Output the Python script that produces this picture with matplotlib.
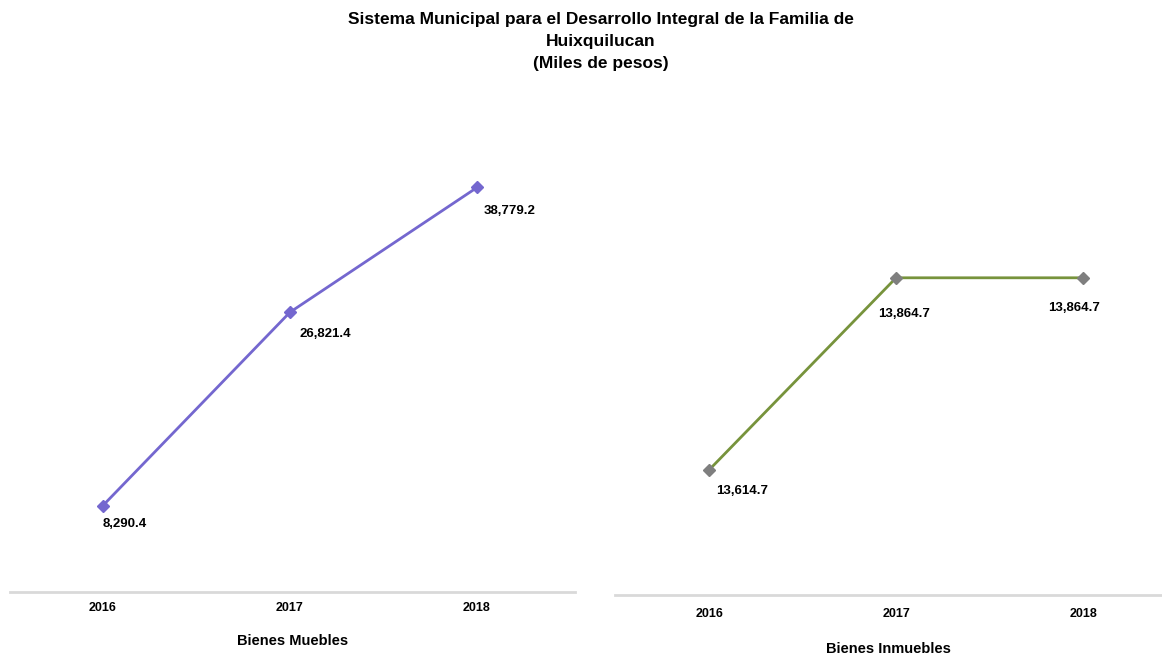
import matplotlib
matplotlib.use("Agg")
import matplotlib.pyplot as plt

plt.rcParams["font.family"] = ["Liberation Sans", "DejaVu Sans"]

years = ["2016", "2017", "2018"]
muebles = [8290.4, 26821.4, 38779.2]
inmuebles = [13614.7, 13864.7, 13864.7]
muebles_labels = ["8,290.4", "26,821.4", "38,779.2"]
inmuebles_labels = ["13,614.7", "13,864.7", "13,864.7"]

title = ("Sistema Municipal para el Desarrollo Integral de la Familia de\n"
         "Huixquilucan\n(Miles de pesos)")

fig = plt.figure(figsize=(11.62, 6.57), dpi=100)
fig.text(0.517, 0.981, title, ha="center", va="top", fontsize=12.5,
         fontweight="bold", linespacing=1.58)

ax1 = fig.add_axes([10 / 1162, 1 - 592 / 657, 565 / 1162, 472 / 657])
ax2 = fig.add_axes([615 / 1162, 1 - 595 / 657, 547 / 1162, 475 / 657])


def style(ax, xlim, ylim, pad):
    ax.set_xlim(*xlim)
    ax.set_ylim(*ylim)
    for s in ("top", "right", "left"):
        ax.spines[s].set_visible(False)
    ax.spines["bottom"].set_color("#d9d9d9")
    ax.spines["bottom"].set_linewidth(2)
    ax.set_yticks([])
    ax.set_xticks(range(len(years)))
    ax.set_xticklabels(years, fontsize=9, fontweight="bold")
    ax.tick_params(axis="x", length=0, pad=pad)


x = range(len(years))
ax1.plot(x, muebles, color="#7467cf", lw=2.0, marker="D", ms=6,
         mfc="#7467cf", mec="#7467cf")
style(ax1, (-0.497, 2.524), (0, 45250), 7.5)
ax1.set_xlabel("Bienes Muebles", fontsize=10.5, fontweight="bold", labelpad=14)
offs1 = [(0, -13), (7, -16), (5, -17)]
for xi, v, lab, off in zip(x, muebles, muebles_labels, offs1):
    ax1.annotate(lab, (xi, v), xytext=off, textcoords="offset points",
                 ha="left", va="center", fontsize=9.5, fontweight="bold")

ax2.plot(x, inmuebles, color="#77933c", lw=2.0, marker="D", ms=6,
         mfc="#7f7f7f", mec="#7f7f7f")
style(ax2, (-0.503, 2.422), (13452, 14070), 9.5)
ax2.set_xlabel("Bienes Inmuebles", fontsize=10.5, fontweight="bold", labelpad=16)
offs2 = [(5, -15), (-13, -26), (-25, -22)]
for xi, v, lab, off in zip(x, inmuebles, inmuebles_labels, offs2):
    ax2.annotate(lab, (xi, v), xytext=off, textcoords="offset points",
                 ha="left", va="center", fontsize=9.5, fontweight="bold")

fig.savefig("out.png", dpi=100, facecolor="white")
